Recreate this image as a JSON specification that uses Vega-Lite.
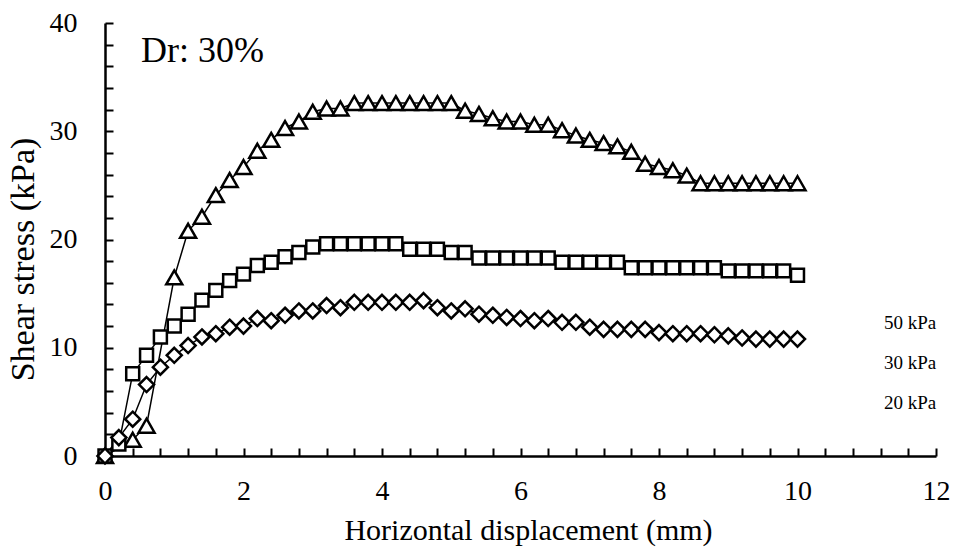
{
  "$schema": "https://vega.github.io/schema/vega-lite/v6.json",
  "autosize": {"type": "none"},
  "padding": {"left": 105, "top": 23, "right": 18, "bottom": 93},
  "width": 831,
  "height": 433,
  "background": "white",
  "config": {
    "view": {"stroke": null},
    "axis": {
      "domainColor": "black",
      "domainWidth": 2.5,
      "ticks": false,
      "grid": true,
      "gridColor": "black",
      "gridOpacity": 1,
      "gridWidth": 2,
      "labelFont": "Liberation Serif",
      "labelFontSize": 28,
      "labelColor": "black",
      "labelOverlap": false,
      "labelFlush": false,
      "titleFont": "Liberation Serif",
      "titleFontWeight": "normal",
      "titleColor": "black"
    }
  },
  "data": {
    "values": [
      {"x": 0, "tau": 0, "series": "50 kPa"},
      {"x": 0.4, "tau": 1.5, "series": "50 kPa"},
      {"x": 0.6, "tau": 2.8, "series": "50 kPa"},
      {"x": 1.0, "tau": 16.5, "series": "50 kPa"},
      {"x": 1.2, "tau": 20.8, "series": "50 kPa"},
      {"x": 1.4, "tau": 22.1, "series": "50 kPa"},
      {"x": 1.6, "tau": 24.1, "series": "50 kPa"},
      {"x": 1.8, "tau": 25.5, "series": "50 kPa"},
      {"x": 2.0, "tau": 26.7, "series": "50 kPa"},
      {"x": 2.2, "tau": 28.2, "series": "50 kPa"},
      {"x": 2.4, "tau": 29.2, "series": "50 kPa"},
      {"x": 2.6, "tau": 30.3, "series": "50 kPa"},
      {"x": 2.8, "tau": 30.9, "series": "50 kPa"},
      {"x": 3.0, "tau": 31.8, "series": "50 kPa"},
      {"x": 3.2, "tau": 32.1, "series": "50 kPa"},
      {"x": 3.4, "tau": 32.1, "series": "50 kPa"},
      {"x": 3.6, "tau": 32.6, "series": "50 kPa"},
      {"x": 3.8, "tau": 32.6, "series": "50 kPa"},
      {"x": 4.0, "tau": 32.6, "series": "50 kPa"},
      {"x": 4.2, "tau": 32.6, "series": "50 kPa"},
      {"x": 4.4, "tau": 32.6, "series": "50 kPa"},
      {"x": 4.6, "tau": 32.6, "series": "50 kPa"},
      {"x": 4.8, "tau": 32.6, "series": "50 kPa"},
      {"x": 5.0, "tau": 32.6, "series": "50 kPa"},
      {"x": 5.2, "tau": 31.9, "series": "50 kPa"},
      {"x": 5.4, "tau": 31.6, "series": "50 kPa"},
      {"x": 5.6, "tau": 31.2, "series": "50 kPa"},
      {"x": 5.8, "tau": 30.9, "series": "50 kPa"},
      {"x": 6.0, "tau": 30.9, "series": "50 kPa"},
      {"x": 6.2, "tau": 30.6, "series": "50 kPa"},
      {"x": 6.4, "tau": 30.6, "series": "50 kPa"},
      {"x": 6.6, "tau": 30.1, "series": "50 kPa"},
      {"x": 6.8, "tau": 29.6, "series": "50 kPa"},
      {"x": 7.0, "tau": 29.2, "series": "50 kPa"},
      {"x": 7.2, "tau": 28.9, "series": "50 kPa"},
      {"x": 7.4, "tau": 28.6, "series": "50 kPa"},
      {"x": 7.6, "tau": 28.1, "series": "50 kPa"},
      {"x": 7.8, "tau": 27.0, "series": "50 kPa"},
      {"x": 8.0, "tau": 26.7, "series": "50 kPa"},
      {"x": 8.2, "tau": 26.4, "series": "50 kPa"},
      {"x": 8.4, "tau": 25.9, "series": "50 kPa"},
      {"x": 8.6, "tau": 25.2, "series": "50 kPa"},
      {"x": 8.8, "tau": 25.2, "series": "50 kPa"},
      {"x": 9.0, "tau": 25.2, "series": "50 kPa"},
      {"x": 9.2, "tau": 25.2, "series": "50 kPa"},
      {"x": 9.4, "tau": 25.2, "series": "50 kPa"},
      {"x": 9.6, "tau": 25.2, "series": "50 kPa"},
      {"x": 9.8, "tau": 25.2, "series": "50 kPa"},
      {"x": 10.0, "tau": 25.2, "series": "50 kPa"},

      {"x": 0, "tau": 0, "series": "30 kPa"},
      {"x": 0.2, "tau": 1.1, "series": "30 kPa"},
      {"x": 0.4, "tau": 7.6, "series": "30 kPa"},
      {"x": 0.6, "tau": 9.3, "series": "30 kPa"},
      {"x": 0.8, "tau": 11.0, "series": "30 kPa"},
      {"x": 1.0, "tau": 12.0, "series": "30 kPa"},
      {"x": 1.2, "tau": 13.1, "series": "30 kPa"},
      {"x": 1.4, "tau": 14.4, "series": "30 kPa"},
      {"x": 1.6, "tau": 15.3, "series": "30 kPa"},
      {"x": 1.8, "tau": 16.2, "series": "30 kPa"},
      {"x": 2.0, "tau": 16.8, "series": "30 kPa"},
      {"x": 2.2, "tau": 17.6, "series": "30 kPa"},
      {"x": 2.4, "tau": 17.9, "series": "30 kPa"},
      {"x": 2.6, "tau": 18.4, "series": "30 kPa"},
      {"x": 2.8, "tau": 18.8, "series": "30 kPa"},
      {"x": 3.0, "tau": 19.3, "series": "30 kPa"},
      {"x": 3.2, "tau": 19.6, "series": "30 kPa"},
      {"x": 3.4, "tau": 19.6, "series": "30 kPa"},
      {"x": 3.6, "tau": 19.6, "series": "30 kPa"},
      {"x": 3.8, "tau": 19.6, "series": "30 kPa"},
      {"x": 4.0, "tau": 19.6, "series": "30 kPa"},
      {"x": 4.2, "tau": 19.6, "series": "30 kPa"},
      {"x": 4.4, "tau": 19.1, "series": "30 kPa"},
      {"x": 4.6, "tau": 19.1, "series": "30 kPa"},
      {"x": 4.8, "tau": 19.1, "series": "30 kPa"},
      {"x": 5.0, "tau": 18.8, "series": "30 kPa"},
      {"x": 5.2, "tau": 18.8, "series": "30 kPa"},
      {"x": 5.4, "tau": 18.3, "series": "30 kPa"},
      {"x": 5.6, "tau": 18.3, "series": "30 kPa"},
      {"x": 5.8, "tau": 18.3, "series": "30 kPa"},
      {"x": 6.0, "tau": 18.3, "series": "30 kPa"},
      {"x": 6.2, "tau": 18.3, "series": "30 kPa"},
      {"x": 6.4, "tau": 18.3, "series": "30 kPa"},
      {"x": 6.6, "tau": 17.9, "series": "30 kPa"},
      {"x": 6.8, "tau": 17.9, "series": "30 kPa"},
      {"x": 7.0, "tau": 17.9, "series": "30 kPa"},
      {"x": 7.2, "tau": 17.9, "series": "30 kPa"},
      {"x": 7.4, "tau": 17.9, "series": "30 kPa"},
      {"x": 7.6, "tau": 17.4, "series": "30 kPa"},
      {"x": 7.8, "tau": 17.4, "series": "30 kPa"},
      {"x": 8.0, "tau": 17.4, "series": "30 kPa"},
      {"x": 8.2, "tau": 17.4, "series": "30 kPa"},
      {"x": 8.4, "tau": 17.4, "series": "30 kPa"},
      {"x": 8.6, "tau": 17.4, "series": "30 kPa"},
      {"x": 8.8, "tau": 17.4, "series": "30 kPa"},
      {"x": 9.0, "tau": 17.1, "series": "30 kPa"},
      {"x": 9.2, "tau": 17.1, "series": "30 kPa"},
      {"x": 9.4, "tau": 17.1, "series": "30 kPa"},
      {"x": 9.6, "tau": 17.1, "series": "30 kPa"},
      {"x": 9.8, "tau": 17.1, "series": "30 kPa"},
      {"x": 10.0, "tau": 16.7, "series": "30 kPa"},

      {"x": 0, "tau": 0, "series": "20 kPa"},
      {"x": 0.2, "tau": 1.7, "series": "20 kPa"},
      {"x": 0.4, "tau": 3.4, "series": "20 kPa"},
      {"x": 0.6, "tau": 6.6, "series": "20 kPa"},
      {"x": 0.8, "tau": 8.2, "series": "20 kPa"},
      {"x": 1.0, "tau": 9.3, "series": "20 kPa"},
      {"x": 1.2, "tau": 10.2, "series": "20 kPa"},
      {"x": 1.4, "tau": 11.0, "series": "20 kPa"},
      {"x": 1.6, "tau": 11.3, "series": "20 kPa"},
      {"x": 1.8, "tau": 11.9, "series": "20 kPa"},
      {"x": 2.0, "tau": 12.0, "series": "20 kPa"},
      {"x": 2.2, "tau": 12.7, "series": "20 kPa"},
      {"x": 2.4, "tau": 12.5, "series": "20 kPa"},
      {"x": 2.6, "tau": 13.0, "series": "20 kPa"},
      {"x": 2.8, "tau": 13.4, "series": "20 kPa"},
      {"x": 3.0, "tau": 13.4, "series": "20 kPa"},
      {"x": 3.2, "tau": 13.9, "series": "20 kPa"},
      {"x": 3.4, "tau": 13.7, "series": "20 kPa"},
      {"x": 3.6, "tau": 14.2, "series": "20 kPa"},
      {"x": 3.8, "tau": 14.2, "series": "20 kPa"},
      {"x": 4.0, "tau": 14.2, "series": "20 kPa"},
      {"x": 4.2, "tau": 14.2, "series": "20 kPa"},
      {"x": 4.4, "tau": 14.2, "series": "20 kPa"},
      {"x": 4.6, "tau": 14.35, "series": "20 kPa"},
      {"x": 4.8, "tau": 13.7, "series": "20 kPa"},
      {"x": 5.0, "tau": 13.4, "series": "20 kPa"},
      {"x": 5.2, "tau": 13.6, "series": "20 kPa"},
      {"x": 5.4, "tau": 13.1, "series": "20 kPa"},
      {"x": 5.6, "tau": 13.0, "series": "20 kPa"},
      {"x": 5.8, "tau": 12.8, "series": "20 kPa"},
      {"x": 6.0, "tau": 12.7, "series": "20 kPa"},
      {"x": 6.2, "tau": 12.5, "series": "20 kPa"},
      {"x": 6.4, "tau": 12.7, "series": "20 kPa"},
      {"x": 6.6, "tau": 12.35, "series": "20 kPa"},
      {"x": 6.8, "tau": 12.35, "series": "20 kPa"},
      {"x": 7.0, "tau": 11.9, "series": "20 kPa"},
      {"x": 7.2, "tau": 11.7, "series": "20 kPa"},
      {"x": 7.4, "tau": 11.7, "series": "20 kPa"},
      {"x": 7.6, "tau": 11.7, "series": "20 kPa"},
      {"x": 7.8, "tau": 11.7, "series": "20 kPa"},
      {"x": 8.0, "tau": 11.4, "series": "20 kPa"},
      {"x": 8.2, "tau": 11.3, "series": "20 kPa"},
      {"x": 8.4, "tau": 11.3, "series": "20 kPa"},
      {"x": 8.6, "tau": 11.3, "series": "20 kPa"},
      {"x": 8.8, "tau": 11.2, "series": "20 kPa"},
      {"x": 9.0, "tau": 11.1, "series": "20 kPa"},
      {"x": 9.2, "tau": 10.9, "series": "20 kPa"},
      {"x": 9.4, "tau": 10.8, "series": "20 kPa"},
      {"x": 9.6, "tau": 10.8, "series": "20 kPa"},
      {"x": 9.8, "tau": 10.8, "series": "20 kPa"},
      {"x": 10.0, "tau": 10.8, "series": "20 kPa"}
    ]
  },
  "layer": [
    {
      "mark": {"type": "line", "color": "black", "strokeWidth": 1.5},
      "encoding": {
        "x": {
          "field": "x",
          "type": "quantitative",
          "scale": {"domain": [0, 12], "nice": false, "zero": false},
          "axis": {
            "title": "Horizontal displacement (mm)",
            "titleFontSize": 30,
            "titleX": 423,
            "titleY": 83,
            "titleBaseline": "alphabetic",
            "titleAlign": "center",
            "labelPadding": 21,
            "labelOverlap": false,
            "labelFlush": false,
            "tickCount": 40,
            "gridDash": [0, 425, 8, 3000],
            "values": [0, 0.4, 0.8, 1.2, 1.6, 2, 2.4, 2.8, 3.2, 3.6, 4, 4.4, 4.8, 5.2, 5.6, 6, 6.4, 6.8, 7.2, 7.6, 8, 8.4, 8.8, 9.2, 9.6, 10, 10.4, 10.8, 11.2, 11.6, 12],
            "labelExpr": "datum.value % 2 === 0 ? format(datum.value, 'd') : ''"
          }
        },
        "y": {
          "field": "tau",
          "type": "quantitative",
          "scale": {"domain": [0, 40], "nice": false},
          "axis": {
            "title": "Shear stress (kPa)",
            "titleFontSize": 34,
            "titleX": -82,
            "titleY": 236,
            "titleAngle": 270,
            "titleAlign": "center",
            "titleBaseline": "middle",
            "labelPadding": 28,
            "labelOverlap": false,
            "labelFlush": false,
            "tickCount": 30,
            "gridDash": [8, 3000],
            "values": [0, 2, 4, 6, 8, 10, 12, 14, 16, 18, 20, 22, 24, 26, 28, 30, 32, 34, 36, 38, 40],
            "labelExpr": "datum.value % 10 === 0 ? format(datum.value, 'd') : ''"
          }
        },
        "detail": {"field": "series"}
      }
    },
    {
      "mark": {"type": "point", "filled": true, "fill": "white", "stroke": "black", "strokeWidth": 2.5, "opacity": 1, "size": 256},
      "encoding": {
        "x": {"field": "x", "type": "quantitative"},
        "y": {"field": "tau", "type": "quantitative"},
        "shape": {
          "field": "series",
          "type": "nominal",
          "scale": {
            "domain": ["50 kPa", "30 kPa", "20 kPa"],
            "range": ["M0,-0.87L1,0.87L-1,0.87Z", "M-0.81,-0.81H0.81V0.81H-0.81Z", "M0,-0.94L0.94,0L0,0.94L-0.94,0Z"]
          },
          "legend": {
            "orient": "none",
            "legendX": 742,
            "legendY": 290,
            "title": null,
            "labelFont": "Liberation Serif",
            "labelFontSize": 19,
            "labelColor": "black",
            "labelOffset": 18,
            "rowPadding": 20,
            "symbolSize": 144,
            "symbolStrokeWidth": 1.5,
            "symbolOpacity": 1,
            "symbolFillColor": "white",
            "symbolStrokeColor": "black",
            "padding": 0
          }
        }
      }
    },
    {
      "data": {"values": [{"label": "Dr: 30%"}]},
      "mark": {"type": "text", "font": "Liberation Serif", "fontSize": 36, "align": "left", "baseline": "alphabetic", "color": "black"},
      "encoding": {
        "x": {"datum": 0.52, "type": "quantitative"},
        "y": {"datum": 36.4, "type": "quantitative"},
        "text": {"field": "label"}
      }
    }
  ]
}
